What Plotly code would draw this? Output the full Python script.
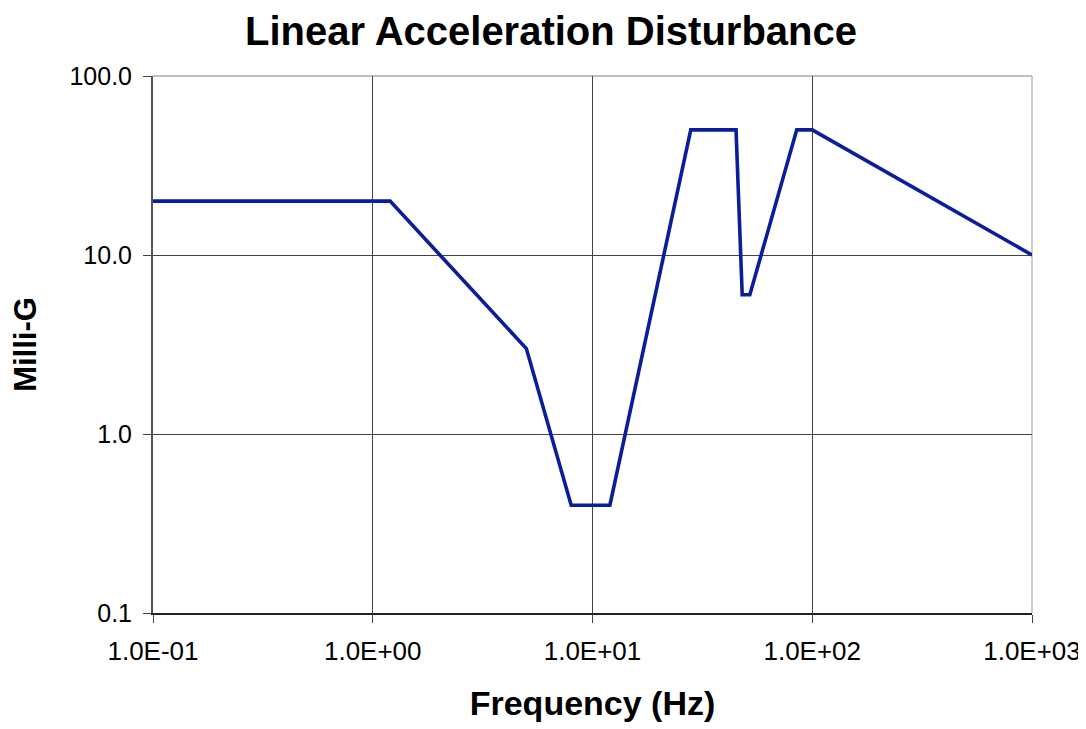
import plotly.graph_objects as go

freq_hz = [0.1, 1.2, 5, 8, 12, 28, 45, 48, 52, 85, 100, 1000]
milli_g = [20, 20, 3, 0.4, 0.4, 50, 50, 6, 6, 50, 50, 10]

x_tickvals = [0.1, 1, 10, 100, 1000]
x_ticktext = ["1.0E-01", "1.0E+00", "1.0E+01", "1.0E+02", "1.0E+03"]
y_tickvals = [0.1, 1, 10, 100]
y_ticktext = ["0.1", "1.0", "10.0", "100.0"]

font = "Liberation Sans, Arial, sans-serif"

fig = go.Figure()
fig.add_trace(go.Scatter(x=freq_hz, y=milli_g, mode="lines",
                         line=dict(color="#0a1e9c", width=3.6),
                         showlegend=False, hoverinfo="skip"))

fig.update_layout(
    width=1086, height=729,
    margin=dict(l=145, r=62, t=68, b=124),
    paper_bgcolor="white", plot_bgcolor="white",
    title=dict(text="<b>Linear Acceleration Disturbance</b>", x=0.5, xanchor="center",
               y=0.968, yanchor="middle", font=dict(family=font, size=40, color="black")),
    font=dict(family=font, color="black"),
)
fig.update_xaxes(type="log", range=[-1, 3], tickvals=x_tickvals, ticktext=x_ticktext,
                 showgrid=True, gridcolor="#444", gridwidth=1,
                 showline=True, linecolor="#222", linewidth=1.5,
                 ticks="outside", ticklen=8, tickcolor="#444",
                 ticklabelstandoff=6,
                 tickfont=dict(size=26, family=font, color="black"),
                 title=dict(text="<b>Frequency (Hz)</b>", font=dict(size=34, family=font, color="black"),
                            standoff=26),
                 zeroline=False)
fig.update_yaxes(type="log", range=[-1, 2], tickvals=y_tickvals, ticktext=y_ticktext,
                 showgrid=True, gridcolor="#444", gridwidth=1,
                 showline=True, linecolor="#555", linewidth=2,
                 ticks="outside", ticklen=8, tickcolor="#444",
                 ticklabelstandoff=6,
                 tickfont=dict(size=25, family=font, color="black"),
                 title=dict(text="<b>Milli-G</b>", font=dict(size=31, family=font, color="black"),
                            standoff=24),
                 zeroline=False)
fig.add_shape(type="line", xref="paper", yref="paper", x0=0, x1=1, y0=1, y1=1,
              line=dict(color="#aaa", width=1.5), layer="below")
fig.add_shape(type="line", xref="paper", yref="paper", x0=1, x1=1, y0=0, y1=1,
              line=dict(color="#bbb", width=1.5), layer="below")

fig.write_html("out.html")
